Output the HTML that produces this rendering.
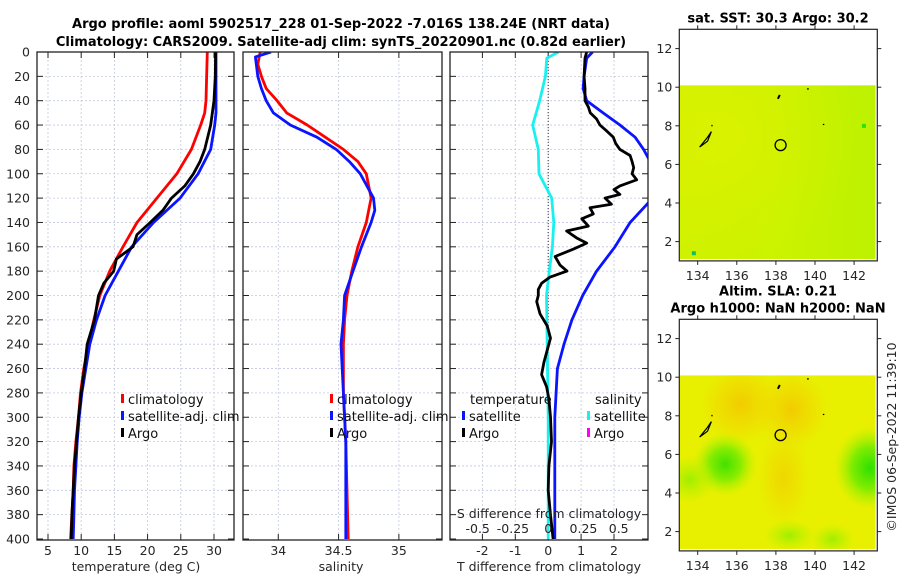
<!DOCTYPE html>
<html><head><meta charset="utf-8">
<style>
html,body{margin:0;padding:0;background:#fff;}
svg{display:block;font-family:"DejaVu Sans","Liberation Sans",sans-serif;}
.tk{font-size:12.5px;fill:#262626;}
.lg{font-size:13px;fill:#111;}
.tt{font-size:13px;font-weight:bold;fill:#000;}
</style></head>
<body>
<svg id="chart" width="900" height="580" viewBox="0 0 900 580" xmlns="http://www.w3.org/2000/svg">
<defs>
<clipPath id="c1"><rect x="37" y="52" width="197" height="488"/></clipPath>
<clipPath id="c2"><rect x="243" y="52" width="199" height="488"/></clipPath>
<clipPath id="c3"><rect x="450" y="52" width="198" height="488"/></clipPath>
<radialGradient id="sstL" cx="0.25" cy="0.3" r="0.7"><stop offset="0" stop-color="#e0f000"/><stop offset="1" stop-color="#c8f200"/></radialGradient>
<radialGradient id="o1" cx="0.5" cy="0.5" r="0.5"><stop offset="0" stop-color="#f4c400"/><stop offset="0.6" stop-color="#f2d400" stop-opacity="0.6"/><stop offset="1" stop-color="#f2d800" stop-opacity="0"/></radialGradient>
<radialGradient id="g1" cx="0.5" cy="0.5" r="0.5"><stop offset="0" stop-color="#30e000"/><stop offset="0.5" stop-color="#80ec00"/><stop offset="1" stop-color="#b8f000" stop-opacity="0"/></radialGradient>
<radialGradient id="g2" cx="0.5" cy="0.5" r="0.5"><stop offset="0" stop-color="#a0ee00"/><stop offset="1" stop-color="#b8f000" stop-opacity="0"/></radialGradient>
<linearGradient id="sstH" x1="0" x2="1" y1="0" y2="0"><stop offset="0" stop-color="#d8f200"/><stop offset="0.5" stop-color="#cef400"/><stop offset="1" stop-color="#b0f200"/></linearGradient>
</defs>
<g id="titles">
<text class="tt" x="341" y="28" text-anchor="middle">Argo profile: aoml 5902517_228 01-Sep-2022 -7.016S 138.24E (NRT data)</text>
<text class="tt" x="341" y="46" text-anchor="middle">Climatology: CARS2009. Satellite-adj clim: synTS_20220901.nc (0.82d earlier)</text>
</g>
<g id="plots"></g>
<g id="maps"></g>
<text class="tk" transform="translate(896,437) rotate(-90)" text-anchor="middle">©IMOS 06-Sep-2022 11:39:10</text>
</svg>
<script>
// ---- data ----
const depthsT = [0,40,50,60,80,100,120,140,160,180,200,220,240,260,280,300,320,340,360,380,400];
const tempClim = [29.0,28.8,28.6,28.0,26.6,24.4,21.4,18.4,16.3,14.3,12.8,11.9,11.1,10.4,9.9,9.6,9.2,8.9,8.8,8.6,8.4];
const tempSat  = [30.3,30.3,30.3,30.1,29.5,27.6,24.9,20.9,17.6,15.6,13.6,12.3,11.3,10.7,10.1,9.7,9.4,9.2,9.0,8.9,8.8];
const depthsArgo = [0,20,40,60,80,90,100,110,120,130,140,150,160,170,180,190,200,220,240,260,280,300,320,340,360,380,400];
const tempArgo = [30.25,30.2,30.0,29.5,28.6,27.9,26.9,25.6,23.6,22.3,20.4,18.4,17.8,15.3,14.9,13.4,12.6,12.0,10.9,10.5,10.0,9.6,9.3,9.0,8.8,8.6,8.5];
const depthsS = [0,10,20,30,40,50,60,70,80,90,100,120,140,160,180,200,220,240,260,280,300,320,400];
const salClim = [33.85,33.83,33.86,33.90,33.99,34.07,34.24,34.39,34.54,34.66,34.73,34.77,34.73,34.66,34.61,34.57,34.55,34.54,34.54,34.54,34.55,34.56,34.58];
const depthsSs = [0,4,20,30,40,50,60,70,80,90,100,120,130,140,160,180,200,220,240,260,280,300,320,400];
const salSat = [33.94,33.81,33.83,33.86,33.90,33.96,34.10,34.32,34.48,34.59,34.68,34.79,34.80,34.77,34.69,34.62,34.55,34.54,34.52,34.53,34.54,34.55,34.56,34.56];
const depthsDS = [0,5,20,40,60,70,80,100,120,140,160,180,200,300,400];
const dSalSat = [0.072,-0.01,-0.02,-0.06,-0.11,-0.09,-0.07,-0.065,0.025,0.04,0.03,0.008,-0.012,0,0];
const depthsDT = [0,5,20,30,40,50,60,70,80,90,100,110,124,140,160,180,200,220,240,260,280,300,400];
const dTempSat = [1.35,1.17,1.09,1.06,1.17,1.67,2.18,2.64,2.9,3.1,3.6,3.6,3.04,2.49,2.03,1.47,1.05,0.72,0.48,0.28,0.24,0.2,0.2];
const depthsDA = [0,5,20,30,40,45,50,55,60,65,70,75,80,85,90,95,100,105,110,113,117,120,125,128,133,137,143,147,153,157,162,168,175,180,185,190,195,200,205,215,225,235,245,255,265,275,285,300,320,340,360,380,400];
const dTempArgo = [1.17,1.12,1.09,1.12,1.12,1.22,1.28,1.47,1.57,1.78,1.98,2.05,2.18,2.49,2.55,2.6,2.55,2.69,2.18,2.0,2.18,1.73,1.92,1.27,1.37,1.02,1.22,0.56,0.88,1.17,0.76,0.21,0.36,0.57,0.05,-0.2,-0.3,-0.3,-0.35,-0.25,-0.03,0.07,-0.03,-0.13,-0.2,-0.05,0.02,0.07,0.1,0.02,0,0.07,0.15];
const depthTicks = [0,20,40,60,80,100,120,140,160,180,200,220,240,260,280,300,320,340,360,380,400];
const tTicks = [5,10,15,20,25,30];
const sTicks = [34,34.5,35];
const sTickLabels = ["34","34.5","35"];
const dtTicks = [-2,-1,0,1,2];
const dsTicks = [-0.5,-0.25,0,0.25,0.5];
const dsTickLabels = ["-0.5","-0.25","0","0.25","0.5"];
const lonTicks = [134,136,138,140,142];
const latTicks = [2,4,6,8,10,12];

// ---- scales ----
const yD = d => 52 + d*1.2175;
const xT = t => 36.7 + (t-3.3)*6.64;
const xS = s => 243.3 + (s-33.71)*120.6;
const xDT = v => 548.2 + v*32.9;
const xDS = v => 548.2 + v*141;

const NS = "http://www.w3.org/2000/svg";
function mk(tag, attrs, parent){const e=document.createElementNS(NS,tag);for(const k in attrs)e.setAttribute(k,attrs[k]);parent.appendChild(e);return e;}
const plots = document.getElementById('plots');

function panel(x0,x1,xt,xfun,clip,name){
  const g = mk('g',{},plots);
  
  
  depthTicks.forEach(d=>{ if(d>0&&d<400) mk('line',{x1:x0,x2:x1,y1:yD(d),y2:yD(d),stroke:'#c4c8e0','stroke-width':0.8,'stroke-dasharray':'2,2'},g);});
  xt.forEach(v=>{ mk('line',{x1:xfun(v),x2:xfun(v),y1:52,y2:540,stroke:'#c4c8e0','stroke-width':0.8,'stroke-dasharray':'2,2'},g);});
  depthTicks.forEach(d=>{ mk('line',{x1:x0,x2:x0+6,y1:yD(d),y2:yD(d),stroke:'#222'},g); mk('line',{x1:x1-6,x2:x1,y1:yD(d),y2:yD(d),stroke:'#222'},g);});
  xt.forEach(v=>{ mk('line',{x1:xfun(v),x2:xfun(v),y1:534,y2:540,stroke:'#222'},g); mk('line',{x1:xfun(v),x2:xfun(v),y1:52,y2:58,stroke:'#222'},g);});
  const lines = mk('g',{'clip-path':`url(#${clip})`},g);
  mk('rect',{x:x0,y:52,width:x1-x0,height:488,fill:'none',stroke:'#222','stroke-width':1.3},g);
  return lines;
}
function series(parent, ds, vs, xf, color, w, name){
  const pts = ds.map((d,i)=>xf(vs[i]).toFixed(1)+','+yD(d).toFixed(1)).join(' ');
  const p = mk('polyline',{points:pts,fill:'none',stroke:color,'stroke-width':w,'stroke-linejoin':'round'},parent);
  
  
}
function text(x,y,s,anchor,cls,parent,name){
  const t = mk('text',{x:x,y:y,'text-anchor':anchor,class:cls},parent); t.textContent=s;
  
  
  return t;
}

// panel 1 temperature
const p1 = panel(37,234,tTicks,xT,'c1','temperature-panel');
series(p1,depthsT,tempClim,xT,'#ff0000',2.8,'temp-climatology-line');
series(p1,depthsT,tempSat,xT,'#0a14ff',2.8,'temp-satellite-line');
series(p1,depthsArgo,tempArgo,xT,'#000',2.8,'temp-argo-line');
depthTicks.forEach(d=>text(30,yD(d)+4.5,String(d),'end','tk',plots,'depth-tick-label'));
tTicks.forEach(v=>text(xT(v),555,String(v),'middle','tk',plots,'temp-tick-label'));
text(136,571,'temperature (deg C)','middle','tk',plots,'temp-axis-title');

// panel 2 salinity
const p2 = panel(243,442,sTicks,xS,'c2','salinity-panel');
series(p2,depthsS,salClim,xS,'#ff0000',2.8,'sal-climatology-line');
series(p2,depthsSs,salSat,xS,'#0a14ff',2.8,'sal-satellite-line');
sTicks.forEach((v,i)=>text(xS(v),555,sTickLabels[i],'middle','tk',plots,'sal-tick-label'));
text(341,571,'salinity','middle','tk',plots,'sal-axis-title');

// panel 3 differences
const p3 = panel(450,648,dtTicks,xDT,'c3','difference-panel');
mk('line',{x1:xDT(0),x2:xDT(0),y1:52,y2:540,stroke:'#333','stroke-width':1,'stroke-dasharray':'1,2'},p3);
series(p3,depthsDS,dSalSat,xDS,'#19f0f0',2.8,'sal-diff-satellite-line');
series(p3,depthsDT,dTempSat,xDT,'#0a14ff',2.8,'temp-diff-satellite-line');
series(p3,depthsDA,dTempArgo,xDT,'#000',2.8,'temp-diff-argo-line');
dtTicks.forEach(v=>text(xDT(v),555,String(v),'middle','tk',plots,'tdiff-tick-label'));
dsTicks.forEach((v,i)=>text(xDS(v),533,dsTickLabels[i],'middle','tk',plots,'sdiff-tick-label'));
text(549,518,'S difference from climatology','middle','tk',plots,'sdiff-axis-title');
text(549,571,'T difference from climatology','middle','tk',plots,'tdiff-axis-title');

// legends
function legend(x,y,color,label,name){
  mk('rect',{x:x,y:y-10,width:3,height:9,fill:color},plots);
  text(x+7,y,label,'start','lg',plots,name);
}
legend(121,404,'#ff0000','climatology','legend-climatology');
legend(121,421,'#0a14ff','satellite-adj. clim','legend-satellite-adj');
legend(121,438,'#000','Argo','legend-argo');
legend(330,404,'#ff0000','climatology','legend-climatology-sal');
legend(330,421,'#0a14ff','satellite-adj. clim','legend-satellite-adj-sal');
legend(330,438,'#000','Argo','legend-argo-sal');
text(470,404,'temperature','start','lg',plots,'legend-temperature-header');
legend(462,421,'#0a14ff','satellite','legend-temp-satellite');
legend(462,438,'#000','Argo','legend-temp-argo');
text(595,404,'salinity','start','lg',plots,'legend-salinity-header');
legend(587,421,'#19f0f0','satellite','legend-sal-satellite');
legend(587,438,'#ff00ff','Argo','legend-sal-argo');

// ---- maps ----
const maps = document.getElementById('maps');
const mxL = 679.3, mxR = 877.3;
const lonX = l => 697.7 + (l-134)*19.55;
let mapCount = 0;
function map(top, name, titles, fillFn){
  const g = mk('g',{},maps);
  
  
  const latY = la => top + (13-la)*19.3;
  mapCount++;
  const cid = 'mclip' + mapCount;
  const cp = mk('clipPath',{id:cid},g);
  mk('rect',{x:680,y:latY(10.1),width:195.5,height:latY(1.1)-latY(10.1)},cp);
  const fg = mk('g',{'clip-path':`url(#${cid})`},g);
  fillFn(fg, latY);
  mk('path',{d:`M${lonX(134.1)},${latY(6.9)} L${lonX(134.5)},${latY(7.4)} L${lonX(134.7)},${latY(7.7)} L${lonX(134.5)},${latY(7.2)} Z`,fill:'none',stroke:'#000','stroke-width':1.2},g);
  mk('path',{d:`M${lonX(138.1)},${latY(9.4)} L${lonX(138.2)},${latY(9.6)}`,stroke:'#000','stroke-width':2},g);
  mk('rect',{x:lonX(139.6),y:latY(9.95),width:1.5,height:1.5,fill:'#000'},g);
  mk('rect',{x:lonX(140.4),y:latY(8.1),width:1.5,height:1.2,fill:'#000'},g);
  mk('rect',{x:lonX(134.7),y:latY(8.05),width:1.2,height:1.5,fill:'#000'},g);
  const c = mk('circle',{cx:lonX(138.24),cy:latY(7.0),r:5.5,fill:'none',stroke:'#000','stroke-width':1.3},g);
  
  
  mk('rect',{x:mxL,y:top,width:mxR-mxL,height:12*19.3,fill:'none',stroke:'#222','stroke-width':1.2},g);
  latTicks.forEach(la=>{
    mk('line',{x1:mxL-4,x2:mxL,y1:latY(la),y2:latY(la),stroke:'#222'},g);
    mk('line',{x1:mxR,x2:mxR+4,y1:latY(la),y2:latY(la),stroke:'#222'},g);
    text(mxL-7,latY(la)+4.5,String(la),'end','tk',g,'lat-tick-label');
  });
  lonTicks.forEach(lo=>{
    mk('line',{x1:lonX(lo),x2:lonX(lo),y1:top+12*19.3,y2:top+12*19.3+4,stroke:'#222'},g);
    mk('line',{x1:lonX(lo),x2:lonX(lo),y1:top-4,y2:top,stroke:'#222'},g);
    text(lonX(lo),top+12*19.3+19,String(lo),'middle','tk',g,'lon-tick-label');
  });
  titles.forEach((t,i)=>text(778,top-7-(titles.length-1-i)*17,t,'middle','tt',g,'map-title'));
}
map(29.3,'sst-map',['sat. SST: 30.3 Argo: 30.2'],(g,latY)=>{
  mk('rect',{x:680,y:latY(10.1),width:195.5,height:latY(1.1)-latY(10.1),fill:'url(#sstH)'},g);
  mk('rect',{x:680,y:latY(10.1),width:195.5,height:latY(1.1)-latY(10.1),fill:'url(#sstL)',opacity:0.5},g);
  mk('rect',{x:lonX(142.4),y:latY(8.1),width:4,height:4,fill:'#30e000'},g);
  mk('rect',{x:lonX(133.7),y:latY(1.5),width:4,height:4,fill:'#10c060'},g);
});
map(319.3,'sla-map',['Altim. SLA: 0.21','Argo h1000: NaN h2000: NaN'],(g,latY)=>{
  const y0 = latY(10.1), h = latY(1.1)-y0;
  mk('rect',{x:680,y:y0,width:195.5,height:h,fill:'#e8f000'},g);
  mk('ellipse',{cx:lonX(136.2),cy:latY(8.6),rx:40,ry:40,fill:'url(#o1)',opacity:0.85},g);
  mk('ellipse',{cx:lonX(138.8),cy:latY(8.3),rx:36,ry:40,fill:'url(#o1)',opacity:0.85},g);
  mk('ellipse',{cx:lonX(138.4),cy:latY(4.8),rx:26,ry:50,fill:'url(#o1)',opacity:0.6},g);
  mk('ellipse',{cx:lonX(135.4),cy:latY(5.5),rx:32,ry:32,fill:'url(#g1)',opacity:0.9},g);
  mk('ellipse',{cx:lonX(142.8),cy:latY(5.3),rx:36,ry:42,fill:'url(#g1)'},g);
  mk('ellipse',{cx:lonX(133.6),cy:latY(4.7),rx:26,ry:24,fill:'url(#g2)'},g);
  mk('ellipse',{cx:lonX(138.7),cy:latY(1.8),rx:26,ry:16,fill:'url(#g2)'},g);
  mk('ellipse',{cx:lonX(140.9),cy:latY(1.6),rx:22,ry:16,fill:'url(#g2)'},g);
});
</script>
</body></html>
